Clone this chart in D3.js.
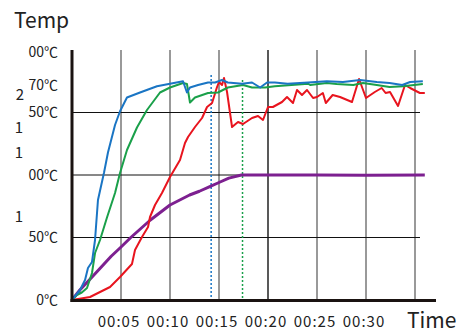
<!DOCTYPE html>
<html>
<head>
<meta charset="utf-8">
<script src="https://cdn.jsdelivr.net/npm/d3@7"></script>
<style>
  body { margin: 0; background: #fff; }
  svg { display: block; font-family: "Noto Sans CJK JP", "Noto Sans", sans-serif; }
</style>
</head>
<body>
<div id="chart"></div>
<script>
// minutes on x, temperature (℃) on y
var xTicks = [5, 10, 15, 20, 25, 30, 35];
var xTickLabels = ["00:05", "00:10", "00:15", "00:20", "00:25", "00:30", ""];
var yGrid = [50, 100, 150];
// the y labels are broken in the source, kept as they appear
var yLabelValues = [0, 50, 67, 100, 117.6, 137.6, 150, 164, 172, 198.5];
var yLabelTexts = ["0℃", "50℃", "1", "00℃", "1", "1", "50℃", "2", "70℃", "00℃"];
var yLabelShift = [0, 0, 35, 0, 35, 35, 0, 34, 0, 0];

var blue = [[0,0],[0.82,8],[1.33,16],[1.63,25.6],[2.04,30.4],[2.35,48],[2.65,80],[3.27,102],[3.67,118],[4.39,140],
  [4.9,151],[5.61,162],[6.94,166],[8.67,171],[10,173],[11.33,175],[11.73,166],[12.04,170],[12.86,172],[13.88,174],
  [14.6,174],[15.3,176],[15.9,174],[17.35,173],[18.37,174],[19.2,170],[19.9,174],[20.7,174],[22,173],[24.1,174],
  [26,175],[27.65,174.4],[29.4,176],[31.1,174.4],[32.4,173.6],[33.7,172],[34.5,174.4],[35.8,175]];
var green = [[0,0],[0.5,4],[1,6],[1.53,9.6],[2.04,21.6],[2.35,37.6],[2.86,48],[3.57,66],[4.39,85.6],[4.9,101.6],
  [5.61,120],[6.63,138],[7.65,152],[8.98,166],[10,170],[11.33,173.6],[11.73,172.8],[12.04,158],[12.55,162],[13.88,165.6],
  [14.9,166],[15.9,170],[17.45,172],[18.37,170],[19.7,170],[20.7,171],[24.1,173],[24.3,172],[26,173.6],[27,172.8],
  [28.7,172],[29.7,173.6],[31.1,172],[32.4,170.4],[33.8,171],[35.8,172.8]];
var red = [[0,0],[1.84,2.4],[3.88,10.4],[4.9,18.4],[6.12,28.8],[6.43,40],[7.14,50.4],[7.76,58.4],[7.96,66.4],[8.47,76],
  [9.18,85.6],[10,98.4],[11.02,112],[11.53,125.6],[11.84,130.4],[12.55,138.4],[13.27,145.6],[13.78,154.4],[14.29,157.6],
  [14.8,170.4],[15,174.4],[15.31,172],[15.51,177.6],[15.82,166.4],[16.33,138.4],[16.94,142.4],[17.45,140.8],[18.37,145.6],
  [18.98,147.2],[19.49,144],[20,154.4],[20.5,154.4],[21.43,158.4],[21.94,162.4],[22.55,157.6],[22.96,168],[23.47,164],
  [23.98,168],[24.6,161.6],[25,162.4],[25.6,165.6],[25.9,157.6],[26.6,164],[27.35,162.4],[28.57,158.4],[29.29,176.8],
  [30,161.6],[30.9,166.4],[31.6,169.6],[32,165.6],[32.45,166.4],[33.27,155.2],[33.98,172],[34.5,169.6],[35.5,165.6],[36,165.6]];
var purple = [[0,0],[0.8,8],[2,18],[4,35],[4.9,41.6],[6,50],[8,64],[10,76],[12,84],[13,87],[14,90.5],[15,94],[16,97.5],
  [17.3,100],[20,100],[25,100],[30,99.8],[36,100]];
var markers = [[14.2, 180, "#1a75c4"], [17.4, 176, "#1aa04a"]];

var width = 467, height = 333;
var svg = d3.select("#chart").append("svg").attr("width", width).attr("height", height);

var x = d3.scaleLinear().domain([0, 35]).range([72, 415]);
var y = d3.scaleLinear().domain([0, 200]).range([300, 50]);

// vertical grid
svg.append("g").selectAll("line").data(xTicks).enter().append("line")
  .attr("x1", d => x(d)).attr("x2", d => x(d))
  .attr("y1", y(200)).attr("y2", y(0))
  .attr("stroke", (d, i) => i == 3 ? "#222" : "#777").attr("stroke-width", 1.5);

// horizontal grid
svg.append("g").selectAll("line").data(yGrid).enter().append("line")
  .attr("x1", x(0)).attr("x2", 420)
  .attr("y1", d => y(d)).attr("y2", d => y(d))
  .attr("stroke", "#111").attr("stroke-width", 1);

// dotted markers
svg.append("g").selectAll("line").data(markers).enter().append("line")
  .attr("x1", d => x(d[0])).attr("x2", d => x(d[0]))
  .attr("y1", d => y(d[1])).attr("y2", y(0))
  .attr("stroke", d => d[2]).attr("stroke-width", 1.5)
  .attr("stroke-dasharray", "2,2");

var line = d3.line().x(d => x(d[0])).y(d => y(d[1]));
var series = [[purple, "#7d2090", 3], [red, "#e8141e", 2], [green, "#1aa04a", 2], [blue, "#1a75c4", 2]];
svg.append("g").selectAll("path").data(series).enter().append("path")
  .attr("d", d => line(d[0]))
  .attr("fill", "none")
  .attr("stroke", d => d[1])
  .attr("stroke-width", d => d[2])
  .attr("stroke-linejoin", "round");

// axes
svg.append("line").attr("x1", x(0)).attr("x2", x(0)).attr("y1", y(200)).attr("y2", y(0) + 2)
  .attr("stroke", "#1a1311").attr("stroke-width", 3);
svg.append("line").attr("x1", x(0) - 1.5).attr("x2", 436).attr("y1", y(0) + 0.5).attr("y2", y(0) + 0.5)
  .attr("stroke", "#1a1311").attr("stroke-width", 3);

// y labels
svg.append("g").selectAll("text").data(yLabelTexts).enter().append("text")
  .attr("x", (d, i) => 58 - yLabelShift[i])
  .attr("y", (d, i) => y(yLabelValues[i]))
  .attr("dy", "0.35em")
  .attr("text-anchor", "end")
  .attr("font-size", (d, i) => yLabelShift[i] > 0 ? 15 : 14)
  .attr("fill", "#222")
  .text(d => d);

// x labels
svg.append("g").selectAll("text").data(xTicks).enter().append("text")
  .attr("x", d => x(d) - 2)
  .attr("y", 327)
  .attr("text-anchor", "middle")
  .attr("font-size", 15)
  .attr("letter-spacing", 1)
  .attr("fill", "#222")
  .text((d, i) => xTickLabels[i]);

svg.append("text").attr("x", 14).attr("y", 28)
  .attr("font-size", 21).attr("fill", "#222").text("Temp");
svg.append("text").attr("x", 407).attr("y", 328)
  .attr("font-size", 21).attr("fill", "#222").text("Time");
</script>
</body>
</html>
